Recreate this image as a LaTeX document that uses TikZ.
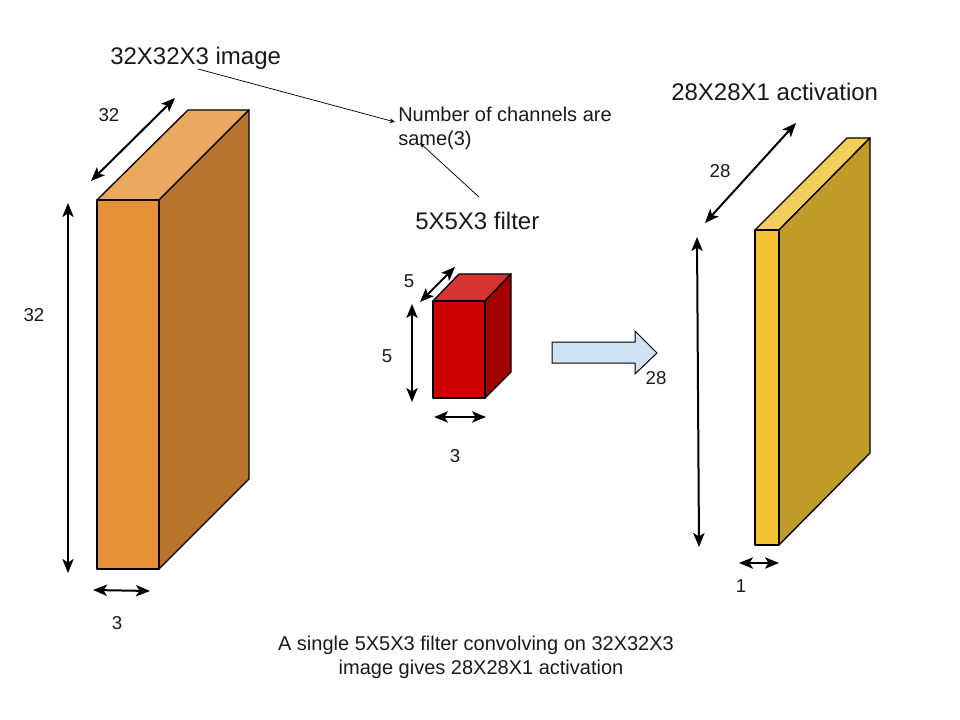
\documentclass[tikz,border=0pt]{standalone}
\usepackage{fontspec}
\setmainfont{Liberation Sans}
\usetikzlibrary{arrows.meta}
\definecolor{orangeF}{HTML}{E69138}
\definecolor{orangeT}{HTML}{EBA85F}
\definecolor{orangeS}{HTML}{B8742C}
\definecolor{redF}{HTML}{CC0000}
\definecolor{redT}{HTML}{D63333}
\definecolor{redS}{HTML}{A30000}
\definecolor{yellowF}{HTML}{F1C232}
\definecolor{yellowT}{HTML}{F4CE5B}
\definecolor{yellowS}{HTML}{C19B28}
\definecolor{blockblue}{HTML}{CFE2F3}
\tikzset{
  x=0.75pt,y=-0.75pt,
  txt/.style={inner sep=0pt,text=black!90,font=\fontsize{14}{18}\selectfont},
  title/.style={inner sep=0pt,text=black!90,font=\fontsize{18}{22}\selectfont},
  note/.style={inner sep=0pt,text=black!90,align=left,font=\fontsize{15}{18}\selectfont},
  dim/.style={line width=1.5pt,{Stealth[length=10.5pt,width=8.5pt,inset=2.6pt]}-{Stealth[length=10.5pt,width=8.5pt,inset=2.6pt]}},
  thin line/.style={line width=0.55pt,black,-{Stealth[length=4pt,width=3.5pt]}},
  face/.style={draw=black,line width=1pt,line join=round},
}
\begin{document}
\begin{tikzpicture}
\useasboundingbox (0,0) rectangle (960,720);
% orange block
\fill[face,fill=orangeT] (97,200) -- (188,110) -- (249,110) -- (159,200) -- cycle;
\fill[face,fill=orangeS] (159,200) -- (249,110) -- (249,479) -- (159,569) -- cycle;
\fill[face,fill=orangeF] (97,200) rectangle (159,569);
% red block
\fill[face,fill=redT] (433,301) -- (459,274) -- (511,274) -- (485,301) -- cycle;
\fill[face,fill=redS] (485,301) -- (511,274) -- (511,372) -- (485,398) -- cycle;
\fill[face,fill=redF] (433,301) rectangle (485,398);
% yellow block
\fill[face,fill=yellowT] (755,230) -- (847,138) -- (870,138) -- (779,230) -- cycle;
\fill[face,fill=yellowS] (779,230) -- (870,138) -- (870,453) -- (779,545) -- cycle;
\fill[face,fill=yellowF] (755,230) rectangle (779,545);
% block arrow
\fill[face,fill=blockblue,line width=0.75pt,line join=miter] (552,342) -- (635,342) -- (635,331) -- (657,353) -- (635,374) -- (635,363) -- (552,363) -- cycle;
% dimension arrow ends
\coordinate (oa1) at (91,181); \coordinate (oa2) at (175,98);
\coordinate (ob1) at (68,203); \coordinate (ob2) at (68,573);
\coordinate (oc1) at (93,590); \coordinate (oc2) at (150,591);
\coordinate (ra1) at (420,302); \coordinate (ra2) at (455,267);
\coordinate (rb1) at (412,304); \coordinate (rb2) at (412,402);
\coordinate (rc1) at (434,417); \coordinate (rc2) at (486,417);
\coordinate (ya1) at (705,223); \coordinate (ya2) at (796,123);
\coordinate (yb1) at (697,237); \coordinate (yb2) at (699,547);
\coordinate (yc1) at (739,563); \coordinate (yc2) at (779,563);
\draw[dim] (oa1) -- (oa2);
\draw[dim] (ob1) -- (ob2);
\draw[dim] (oc1) -- (oc2);
\draw[dim] (ra1) -- (ra2);
\draw[dim] (rb1) -- (rb2);
\draw[dim] (rc1) -- (rc2);
\draw[dim] (ya1) -- (ya2);
\draw[dim] (yb1) -- (yb2);
\draw[dim] (yc1) -- (yc2);
% labels
\node[title,anchor=west] (t1) at (110,58) {32X32X3 image};
\node[title,anchor=west] (t2) at (415,221) {5X5X3 filter};
\node[title,anchor=west] (t3) at (671,92) {28X28X1 activation};
\node[note,anchor=north west] (n1) at (398,107) {Number of channels are\\same(3)};
\node[txt] (l1) at (109,115) {32};
\node[txt] (l2) at (34,315) {32};
\node[txt] (l3) at (117,623) {3};
\node[txt] (l4) at (409,281) {5};
\node[txt] (l5) at (387,356) {5};
\node[txt] (l6) at (455,456) {3};
\node[txt] (l7) at (656,378) {28};
\node[txt] (l8) at (720,171) {28};
\node[txt] (l9) at (741,586) {1};
\node[txt,font=\fontsize{15}{18}\selectfont,align=center,anchor=north] (cap) at (476,636) {A single 5X5X3 filter convolving on 32X32X3\\\hspace*{7.5pt}image gives 28X28X1 activation};
% thin annotation lines
\coordinate (c1) at (198,69); \coordinate (c2) at (395,122);
\coordinate (c3) at (479,197); \coordinate (c4) at (420,143);
\draw[thin line] (c1) -- (c2);
\draw[thin line] (c3) -- (c4);
\end{tikzpicture}
\end{document}
